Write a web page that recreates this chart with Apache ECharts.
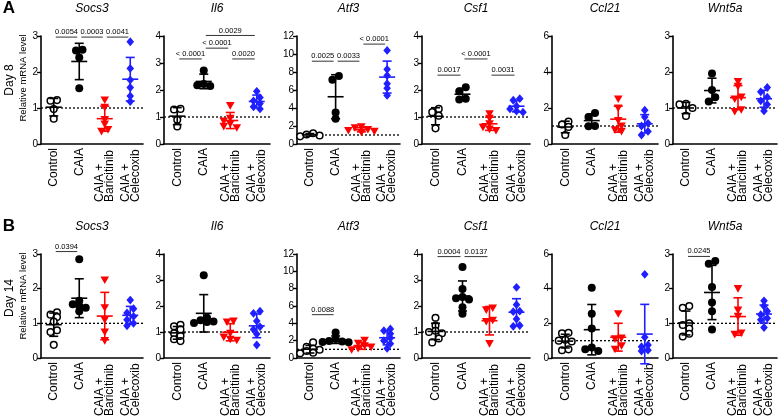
<!DOCTYPE html>
<html><head><meta charset="utf-8">
<script src="https://cdn.jsdelivr.net/npm/echarts@6/dist/echarts.min.js"></script>
<style>html,body{margin:0;padding:0;background:#fff}#c{width:778px;height:419px}</style>
</head><body><div id="c"></div>
<script>
// ---------- data ----------
const categories = ['Control', 'CAIA', 'CAIA +\nBaricitinib', 'CAIA +\nCelecoxib'];
const genes = ['Socs3', 'Il6', 'Atf3', 'Csf1', 'Ccl21', 'Wnt5a'];
const yMax = [3, 4, 12, 4, 6, 3];
const yStep = [1, 1, 2, 1, 2, 1];
const rowLabels = ['Day 8', 'Day 14'];
const panelLetters = ['A', 'B'];

// Day 8: [Control, CAIA, CAIA+Baricitinib, CAIA+Celecoxib]
const day8_Socs3 = [[1.22,1.20,0.97,0.70],[2.62,2.60,2.40,1.55],[1.22,1.02,0.68,0.55,0.40,0.35],[2.84,2.10,1.78,1.57,1.33,1.18]];
const day8_Il6   = [[1.30,1.28,0.90,0.65],[2.72,2.22,2.18,2.15],[1.42,0.95,0.85,0.75,0.65,0.60],[1.95,1.72,1.60,1.50,1.38,1.30]];
const day8_Atf3  = [[1.20,1.05,0.95,0.85],[7.55,7.15,3.50,2.80],[1.90,1.80,1.60,1.50,1.40,1.30],[10.4,8.3,7.6,6.7,6.2,5.4]];
const day8_Csf1  = [[1.30,1.18,1.05,0.58],[2.10,1.95,1.68,1.65],[1.12,0.95,0.75,0.62,0.55,0.50],[1.68,1.62,1.40,1.30,1.22,1.18]];
const day8_Ccl21 = [[1.25,1.08,0.95,0.50],[1.72,1.50,1.00,0.98],[2.50,2.00,1.30,1.00,0.78,0.70],[1.88,1.50,1.15,1.00,0.70,0.50]];
const day8_Wnt5a = [[1.12,1.10,1.00,0.78],[1.96,1.50,1.30,1.18],[1.73,1.60,1.30,1.25,0.95,0.90],[1.57,1.45,1.30,1.20,1.10,0.92]];

// Day 14
const day14_Socs3 = [[1.32,1.25,1.18,1.05,0.80,0.75,0.38],[2.85,1.65,1.55,1.50,1.45,1.35],[2.25,1.45,1.10,0.75,0.50],[1.67,1.42,1.30,1.20,1.10,1.00,0.93]];
const day14_Il6   = [[1.28,1.22,1.10,0.95,0.85,0.72,0.65],[3.18,1.55,1.45,1.40,1.38,1.35],[1.42,1.38,0.95,0.80,0.72,0.68],[1.80,1.72,1.42,1.20,1.10,0.92,0.50]];
const day14_Atf3  = [[1.80,1.30,1.10,0.95,0.80,0.60,0.55],[2.95,2.20,1.95,1.90,1.85,1.82],[2.05,1.70,1.40,1.25,1.10,0.95],[3.35,3.15,2.80,2.30,2.00,1.65,1.10]];
const day14_Csf1  = [[1.55,1.25,1.05,1.00,0.95,0.75,0.60],[3.50,2.65,2.35,2.30,2.25,1.95,1.70],[1.92,1.85,1.45,1.40,0.55],[2.72,2.05,1.80,1.78,1.50,1.25,1.22]];
const day14_Ccl21 = [[1.45,1.42,1.05,1.00,0.95,0.50,0.45],[4.05,2.55,1.70,0.60,0.50,0.40],[2.55,1.15,1.10,0.70,0.50],[4.83,1.20,0.75,0.65,0.45,0.40]];
const day14_Wnt5a = [[1.50,1.45,1.00,0.95,0.85,0.70,0.62],[2.80,2.72,2.05,1.60,1.35,0.82],[2.00,1.38,1.20,0.72,0.68],[1.65,1.50,1.35,1.25,1.15,1.10,0.88]];

// significance brackets: [fromGroup, toGroup, level, p-value text]
const sig8_Socs3 = [[0,1,2.97,'0.0054'],[1,2,2.97,'0.0003'],[2,3,2.97,'0.0041']];
const sig8_Il6   = [[0,1,3.15,'< 0.0001'],[1,2,3.55,'< 0.0001'],[1,3,4.02,'0.0029'],[2,3,3.15,'0.0020']];
const sig8_Atf3  = [[0,1,9.2,'0.0025'],[1,2,9.2,'0.0033'],[2,3,11.1,'< 0.0001']];
const sig8_Csf1  = [[0,1,2.55,'0.0017'],[1,2,3.15,'< 0.0001'],[2,3,2.55,'0.0031']];
const sig8_Ccl21 = [];
const sig8_Wnt5a = [];
const sig14_Socs3 = [[0,1,3.07,'0.0394']];
const sig14_Il6   = [];
const sig14_Atf3  = [[0,1,5.0,'0.0088']];
const sig14_Csf1  = [[0,1,3.9,'0.0004'],[1,2,3.9,'0.0137']];
const sig14_Ccl21 = [];
const sig14_Wnt5a = [[0,1,2.93,'0.0245']];

const rowsData = [
  [day8_Socs3, day8_Il6, day8_Atf3, day8_Csf1, day8_Ccl21, day8_Wnt5a],
  [day14_Socs3, day14_Il6, day14_Atf3, day14_Csf1, day14_Ccl21, day14_Wnt5a]
];
const rowsSig = [
  [sig8_Socs3, sig8_Il6, sig8_Atf3, sig8_Csf1, sig8_Ccl21, sig8_Wnt5a],
  [sig14_Socs3, sig14_Il6, sig14_Atf3, sig14_Csf1, sig14_Ccl21, sig14_Wnt5a]
];

// ---------- layout / style ----------
const FONT = '"Liberation Sans", Arial, Helvetica, sans-serif';
const COLORS = ['#000000', '#000000', '#ff0000', '#1f1fff'];
const lefts = [41, 164, 297, 422, 552, 673];
const widths = [102, 106, 103, 108, 106, 104];
const tops = [36, 254];
const H = 108;

function meanSd(a) {
  const m = a.reduce((s, v) => s + v, 0) / a.length;
  const v = a.reduce((s, x) => s + (x - m) * (x - m), 0) / (a.length - 1);
  return [m, Math.sqrt(v)];
}

// Prism-like scatter spreading: horizontal pixel offsets computed from the values
function swarm(vals, pxPerUnit) {
  const TX = 6.5, TY = 4.5, STEP = TX / 2;
  const idx = vals.map((v, i) => i).sort((a, b) => vals[b] - vals[a]);
  const off = new Array(vals.length).fill(0);
  const placed = [];
  idx.forEach(i => {
    const y = -vals[i] * pxPerUnit;
    let chosen = 0;
    for (let k = 0; k < 40; k++) {
      const cand = k === 0 ? 0 : (k % 2 ? -1 : 1) * Math.ceil(k / 2) * STEP;
      const ok = placed.every(p => Math.abs(p.y - y) >= TY || Math.abs(p.x - cand) >= TX - 1e-6);
      if (ok) { chosen = cand; break; }
    }
    placed.push({ i: i, x: chosen, y: y });
  });
  // centre each vertically-connected cluster
  placed.sort((a, b) => a.y - b.y);
  let cl = [];
  const flush = () => {
    if (!cl.length) return;
    const mn = Math.min(...cl.map(p => p.x)), mx = Math.max(...cl.map(p => p.x));
    const sh = (mn + mx) / 2;
    cl.forEach(p => { off[p.i] = p.x - sh; });
    cl = [];
  };
  placed.forEach(p => {
    if (cl.length && p.y - cl[cl.length - 1].y >= TY) flush();
    cl.push(p);
  });
  flush();
  return off;
}

const grids = [], xAxes = [], yAxes = [], series = [], graphics = [];
let gi = 0;
for (let r = 0; r < 2; r++) {
  for (let c = 0; c < 6; c++) {
    const groups = rowsData[r][c];
    const sig = rowsSig[r][c];
    grids.push({ left: lefts[c], top: tops[r], width: widths[c], height: H, containLabel: false });
    xAxes.push({
      gridIndex: gi, type: 'category', data: categories, boundaryGap: true,
      axisLine: { lineStyle: { color: '#000', width: 1.6 } },
      axisTick: { show: false },
      axisLabel: {
        rotate: 90, margin: 4, color: '#000', fontFamily: FONT, fontSize: 12,
        interval: 0,
        formatter: (v) => {
          const parts = v.split('\n');
          if (parts.length === 1) return '{s|' + v + '}';
          return '{a|' + parts[0] + '}\n{a|' + parts[1] + '}';
        },
        rich: {
          s: { fontFamily: FONT, fontSize: 12, color: '#000' },
          a: { fontFamily: FONT, fontSize: 12, color: '#000', lineHeight: 10, width: 54, align: 'left' }
        }
      }
    });
    yAxes.push({
      gridIndex: gi, type: 'value', min: 0, max: yMax[c], interval: yStep[c],
      axisLine: { show: true, lineStyle: { color: '#000', width: 1.6 } },
      axisTick: { show: true, length: 4, lineStyle: { color: '#000', width: 1.4 } },
      splitLine: { show: false },
      axisLabel: { color: '#000', fontFamily: FONT, fontSize: 10, margin: 3 }
    });
    // dotted reference line at 1
    series.push({
      type: 'custom', xAxisIndex: gi, yAxisIndex: gi, z: 1, silent: true,
      data: [[0, 1]],
      renderItem: (params, api) => {
        const cs = params.coordSys;
        const y = api.coord([0, api.value(1)])[1];
        return { type: 'line', shape: { x1: cs.x, y1: y, x2: cs.x + cs.width, y2: y },
          style: { stroke: '#000', lineWidth: 1.3, lineDash: [2, 2] } };
      }
    });
    // points
    const pxPerUnit = H / yMax[c];
    const pts = [];
    groups.forEach((vals, g) => {
      const off = swarm(vals, pxPerUnit);
      vals.forEach((v, i) => pts.push([g, v, off[i]]));
    });
    series.push({
      type: 'custom', xAxisIndex: gi, yAxisIndex: gi, z: 3, silent: true, clip: false,
      data: pts,
      renderItem: (params, api) => {
        const g = api.value(0), v = api.value(1), off = api.value(2);
        const p = api.coord([g, v]);
        const x = p[0] + off, y = p[1];
        const col = COLORS[g];
        if (g === 0) return { type: 'circle', shape: { cx: x, cy: y, r: 3.3 }, style: { fill: '#fff', stroke: '#000', lineWidth: 1.5 } };
        if (g === 1) return { type: 'circle', shape: { cx: x, cy: y, r: 4 }, style: { fill: '#000' } };
        if (g === 2) return { type: 'polygon', shape: { points: [[x - 4.3, y - 3.6], [x + 4.3, y - 3.6], [x, y + 4]] }, style: { fill: col } };
        return { type: 'polygon', shape: { points: [[x, y - 4.4], [x + 3.8, y], [x, y + 4.4], [x - 3.8, y]] }, style: { fill: col } };
      }
    });
    // mean ± SD
    series.push({
      type: 'custom', xAxisIndex: gi, yAxisIndex: gi, z: 4, silent: true, clip: false,
      data: groups.map((vals, g) => [g, meanSd(vals)[0], meanSd(vals)[1]]),
      renderItem: (params, api) => {
        const g = api.value(0), m = api.value(1), sd = api.value(2);
        const pm = api.coord([g, m]), pt = api.coord([g, m + sd]), pb = api.coord([g, m - sd]);
        const st = { stroke: COLORS[g], lineWidth: 1.6 };
        const x = pm[0];
        return { type: 'group', children: [
          { type: 'line', shape: { x1: x, y1: pt[1], x2: x, y2: pb[1] }, style: st },
          { type: 'line', shape: { x1: x - 8, y1: pm[1], x2: x + 8, y2: pm[1] }, style: st },
          { type: 'line', shape: { x1: x - 4.5, y1: pt[1], x2: x + 4.5, y2: pt[1] }, style: st },
          { type: 'line', shape: { x1: x - 4.5, y1: pb[1], x2: x + 4.5, y2: pb[1] }, style: st }
        ] };
      }
    });
    // significance brackets
    if (sig.length) {
      series.push({
        type: 'custom', xAxisIndex: gi, yAxisIndex: gi, z: 5, silent: true, clip: false,
        data: sig.map(s => [s[0], s[2], s[1]]),
        renderItem: (params, api) => {
          const s = sig[params.dataIndex];
          const p1 = api.coord([api.value(0), api.value(1)]);
          const p2 = api.coord([api.value(2), api.value(1)]);
          const x1 = p1[0] + 2, x2 = p2[0] - 2, y = p1[1];
          return { type: 'group', children: [
            { type: 'line', shape: { x1: x1, y1: y, x2: x2, y2: y }, style: { stroke: '#333', lineWidth: 1 } },
            { type: 'text', x: (x1 + x2) / 2, y: y - 1, style: { text: s[3], fill: '#000', font: '7.5px ' + FONT, textAlign: 'center', textVerticalAlign: 'bottom' } }
          ] };
        }
      });
    }
    // gene title
    graphics.push({ type: 'text', x: lefts[c] + widths[c] / 2, y: tops[r] - 27,
      style: { text: genes[c], font: 'italic 12px ' + FONT, fill: '#000', textAlign: 'center', textVerticalAlign: 'middle' } });
    gi++;
  }
  // row labels
  graphics.push({ type: 'text', x: 9, y: tops[r] - 28, style: { text: panelLetters[r], font: 'bold 17px ' + FONT, fill: '#000', textAlign: 'center', textVerticalAlign: 'middle' } });
  graphics.push({ type: 'text', x: 10, y: tops[r] + 44, rotation: Math.PI / 2,
    style: { text: rowLabels[r], font: '12px ' + FONT, fill: '#000', textAlign: 'center', textVerticalAlign: 'middle' } });
  graphics.push({ type: 'text', x: 23, y: tops[r] + 42, rotation: Math.PI / 2,
    style: { text: 'Relative mRNA level', font: '9.5px ' + FONT, fill: '#000', textAlign: 'center', textVerticalAlign: 'middle' } });
}

const chart = echarts.init(document.getElementById('c'), null, { renderer: 'canvas' });
chart.setOption({
  animation: false,
  backgroundColor: '#fff',
  grid: grids, xAxis: xAxes, yAxis: yAxes, series: series, graphic: graphics
});
</script>
</body></html>
